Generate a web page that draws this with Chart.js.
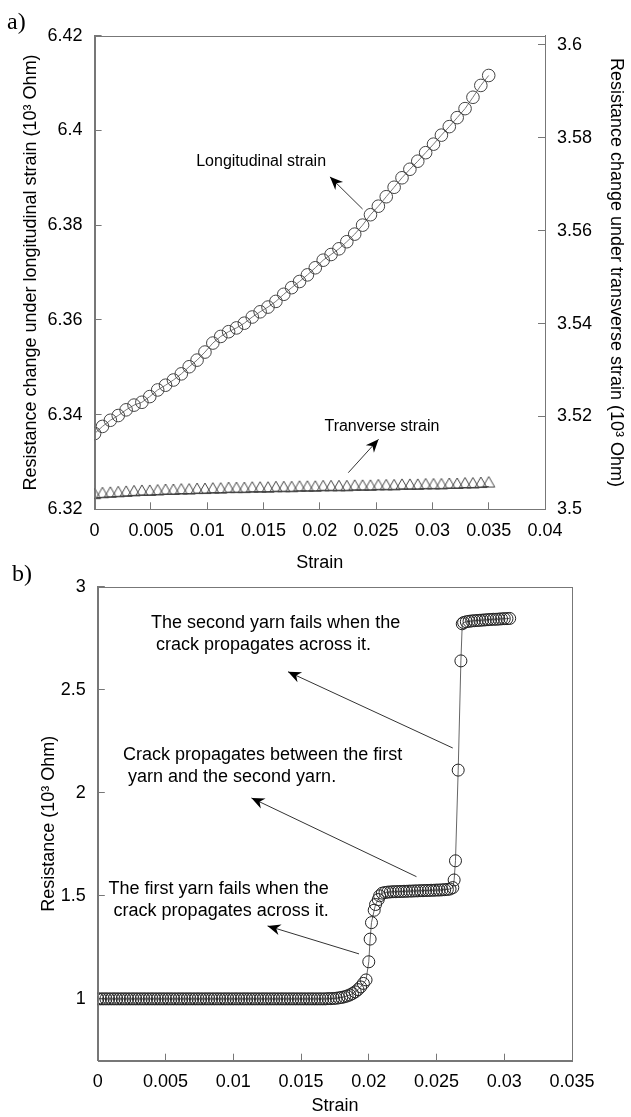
<!DOCTYPE html>
<html><head><meta charset="utf-8">
<script src="https://cdn.jsdelivr.net/npm/chart.js@4.4.1/dist/chart.umd.min.js"></script>
<style>
html,body{margin:0;padding:0;background:#fff;}
body{width:631px;height:1117px;position:relative;overflow:hidden;}
#ca{position:absolute;left:0;top:0;}
#cb{position:absolute;left:0;top:555px;}
</style></head><body>
<canvas id="ca" width="631" height="580"></canvas>
<canvas id="cb" width="631" height="562"></canvas>
<script>
// ---------- Panel a data ----------
const aStrain = [0,0.0007,0.0014,0.0021,0.0028,0.0035,0.0042,0.0049,0.0056,0.0063,
  0.007,0.0077,0.0084,0.0091,0.0098,0.0105,0.0112,0.0119,0.0126,0.0133,
  0.014,0.0147,0.0154,0.0161,0.0168,0.0175,0.0182,0.0189,0.0196,0.0203,
  0.021,0.0217,0.0224,0.0231,0.0238,0.0245,0.0252,0.0259,0.0266,0.0273,
  0.028,0.0287,0.0294,0.0301,0.0308,0.0315,0.0322,0.0329,0.0336,0.0343,0.035];
const aLongitudinal = [6.3360,6.3375,6.3388,6.3398,6.3410,6.3420,6.3426,6.3438,6.3452,6.3462,
  6.3473,6.3486,6.3501,6.3515,6.3532,6.3551,6.3565,6.3575,6.3583,6.3593,
  6.3606,6.3617,6.3627,6.3639,6.3654,6.3668,6.3681,6.3695,6.3710,6.3726,
  6.3738,6.3750,6.3765,6.3781,6.3800,6.3822,6.3840,6.3860,6.3880,6.3900,
  6.3918,6.3935,6.3953,6.3971,6.3990,6.4008,6.4027,6.4046,6.4070,6.4095,6.4116];
const aTransverse = [3.5024,3.5026,3.5027,3.5028,3.5029,3.5030,3.5031,3.5031,3.5032,3.5033,
  3.5033,3.5034,3.5034,3.5035,3.5035,3.5036,3.5036,3.5037,3.5037,3.5037,
  3.5038,3.5038,3.5038,3.5039,3.5039,3.5039,3.5040,3.5040,3.5040,3.5041,
  3.5041,3.5041,3.5041,3.5042,3.5042,3.5042,3.5043,3.5043,3.5043,3.5044,
  3.5044,3.5044,3.5045,3.5045,3.5045,3.5046,3.5046,3.5047,3.5047,3.5048,3.5049];
const aXTicks = [0,0.005,0.01,0.015,0.02,0.025,0.03,0.035,0.04];
const aXTickLabels = ['0','0.005','0.01','0.015','0.02','0.025','0.03','0.035','0.04'];
const aYTicks = [6.32,6.34,6.36,6.38,6.4,6.42];
const aYTickLabels = ['6.32','6.34','6.36','6.38','6.4','6.42'];
const aY2Ticks = [3.5,3.52,3.54,3.56,3.58,3.6];
const aY2TickLabels = ['3.5','3.52','3.54','3.56','3.58','3.6'];

// ---------- Panel b data ----------
const bStrain = [
  0,0.0002,0.0004,0.0006,0.0008,0.001,0.0012,0.0014,0.0016,0.0018,
  0.002,0.0022,0.0024,0.0026,0.0028,0.003,0.0032,0.0034,0.0036,0.0038,
  0.004,0.0042,0.0044,0.0046,0.0048,0.005,0.0052,0.0054,0.0056,0.0058,
  0.006,0.0062,0.0064,0.0066,0.0068,0.007,0.0072,0.0074,0.0076,0.0078,
  0.008,0.0082,0.0084,0.0086,0.0088,0.009,0.0092,0.0094,0.0096,0.0098,
  0.01,0.0102,0.0104,0.0106,0.0108,0.011,0.0112,0.0114,0.0116,0.0118,
  0.012,0.0122,0.0124,0.0126,0.0128,0.013,0.0132,0.0134,0.0136,0.0138,
  0.014,0.0142,0.0144,0.0146,0.0148,0.015,0.0152,0.0154,0.0156,0.0158,
  0.016,0.0162,0.0164,0.0166,0.0168,0.017,0.0172,0.0174,0.0176,
  0.0178,0.018,0.0182,0.0184,0.0186,0.0188,0.019,0.0192,0.0194,0.0196,
  0.0198,0.02,0.0201,0.0202,0.0204,0.0205,0.0207,0.0208,0.021,
  0.0212,0.0214,0.0216,0.0218,0.022,0.0222,0.0224,0.0226,0.0228,0.023,
  0.0232,0.0234,0.0236,0.0238,0.024,0.0242,0.0244,0.0246,0.0248,0.025,
  0.0252,0.0254,0.0256,0.0258,0.026,0.0262,
  0.0263,0.0264,0.0266,0.0268,0.0269,
  0.027,0.0272,0.0274,0.0276,0.0278,0.028,0.0282,0.0284,0.0286,0.0288,
  0.029,0.0292,0.0294,0.0296,0.0298,0.03,0.0302,0.0304];
const bResistance = [
  1,1,1,1,1,1,1,1,1,1,
  1,1,1,1,1,1,1,1,1,1,
  1,1,1,1,1,1,1,1,1,1,
  1,1,1,1,1,1,1,1,1,1,
  1,1,1,1,1,1,1,1,1,1,
  1,1,1,1,1,1,1,1,1,1,
  1,1,1,1,1,1,1,1,1,1,
  1,1,1,1,1,1,1,1,1,1,
  1,1,1,1,1,1.001,1.001,1.002,1.003,
  1.005,1.007,1.010,1.014,1.019,1.026,1.034,1.045,1.058,1.075,
  1.092,1.180,1.290,1.370,1.430,1.458,1.482,1.500,1.513,
  1.516,1.518,1.519,1.520,1.520,1.521,1.521,1.522,1.522,1.523,
  1.523,1.524,1.524,1.525,1.525,1.526,1.526,1.527,1.527,1.528,
  1.528,1.529,1.530,1.531,1.533,1.540,
  1.577,1.670,2.110,2.640,2.820,
  2.826,2.830,2.832,2.834,2.835,2.836,2.837,2.838,2.839,2.840,
  2.841,2.842,2.842,2.843,2.844,2.845,2.845,2.846];
const bXTicks = [0,0.005,0.01,0.015,0.02,0.025,0.03,0.035];
const bXTickLabels = ['0','0.005','0.01','0.015','0.02','0.025','0.03','0.035'];
const bYTicks = [1,1.5,2,2.5,3];
const bYTickLabels = ['1','1.5','2','2.5','3'];

// ---------- Annotations (data coordinates) ----------
const aNotes = [
  {lines:['Longitudinal strain'], x:0.01479, y:6.3935, align:'center'},
  {lines:['Tranverse strain'], x:0.02552, y:6.33744, align:'center'}
];
const aArrows = [
  {from:[0.0238,6.3834], to:[0.0209,6.3902]},
  {from:[0.02253,6.32773], to:[0.02522,6.33478]}
];
const bNotes = [
  {lines:['The second yarn fails when the',' crack propagates across it.'], x:0.003927, y:2.8235, align:'left'},
  {lines:['Crack propagates between the first',' yarn and the second yarn.'], x:0.00186, y:2.1833, align:'left'},
  {lines:['The first yarn fails when the',' crack propagates across it.'], x:0.000797, y:1.5335, align:'left'}
];
const bArrows = [
  {from:[0.02620,2.2173], to:[0.01404,2.5873]},
  {from:[0.02352,1.593], to:[0.01134,1.975]},
  {from:[0.01928,1.2182], to:[0.01253,1.354]}
];

// ---------- helpers ----------
const SANS = "'Liberation Sans', Arial, sans-serif";
const AXIS = '#777';
function tri(){
  const c=document.createElement('canvas'); c.width=16; c.height=24;
  const g=c.getContext('2d');
  g.strokeStyle='#444'; g.lineWidth=1;
  g.beginPath(); g.moveTo(8,2); g.lineTo(14,12.5); g.lineTo(2,12.5); g.closePath(); g.stroke();
  return c;
}
function arrow(ctx,x1,y1,x2,y2){
  ctx.save();
  ctx.strokeStyle='#333'; ctx.lineWidth=1;
  ctx.beginPath(); ctx.moveTo(x1,y1); ctx.lineTo(x2,y2); ctx.stroke();
  const ang=Math.atan2(y2-y1,x2-x1);
  ctx.translate(x2,y2); ctx.rotate(ang);
  ctx.fillStyle='#000';
  ctx.beginPath(); ctx.moveTo(0,0); ctx.lineTo(-13,-5.5); ctx.lineTo(-9,0); ctx.lineTo(-13,5.5); ctx.closePath(); ctx.fill();
  ctx.restore();
}
const notesPlugin = {
  id:'notes',
  afterDraw(chart,args,o){
    const ctx=chart.ctx, xs=chart.scales.x, ys=chart.scales[o.yAxis], a=chart.chartArea;
    ctx.save();
    ctx.strokeStyle=AXIS; ctx.lineWidth=1;
    ctx.strokeRect(Math.round(a.left)+0.5, Math.round(a.top)+0.5, Math.round(a.right)-Math.round(a.left), Math.round(a.bottom)-Math.round(a.top));
    ctx.fillStyle='#000';
    ctx.font=o.panelFont; ctx.textAlign='left'; ctx.textBaseline='middle';
    ctx.fillText(o.panel, o.panelX, o.panelY);
    ctx.font=o.noteFont;
    o.notes.forEach(n=>{
      const px=xs.getPixelForValue(n.x), py=ys.getPixelForValue(n.y);
      ctx.textAlign=n.align;
      n.lines.forEach((t,i)=>ctx.fillText(t,px,py+i*o.lineGap));
    });
    o.arrows.forEach(r=>arrow(ctx,xs.getPixelForValue(r.from[0]),ys.getPixelForValue(r.from[1]),xs.getPixelForValue(r.to[0]),ys.getPixelForValue(r.to[1])));
    ctx.restore();
  }
};
function tickFont(){return {family:SANS,size:18};}
function axisBase(ticksArr,labels,min,max,pos,size,titleText,titlePad){
  const horiz = pos==='bottom';
  return {
    type:'linear', position:pos, min:min, max:max,
    afterBuildTicks(s){ s.ticks = ticksArr.map(v=>({value:v})); },
    afterFit(s){ if(horiz) s.height=size; else s.width=size; },
    ticks:{callback:(v,i)=>labels[i], font:tickFont(), color:'#000', padding:horiz?18:19, maxRotation:0, autoSkip:false},
    grid:{drawOnChartArea:false, tickLength:-7, color:AXIS, tickWidth:1},
    border:{color:AXIS, width:1},
    title:{display:true, text:titleText, font:{family:SANS,size:18}, color:'#000', padding:titlePad}
  };
}

// ---------- Chart a ----------
new Chart(document.getElementById('ca'),{
  type:'line',
  data:{datasets:[
    {label:'Longitudinal strain', data:aStrain.map((x,i)=>({x:x,y:aLongitudinal[i]})), yAxisID:'y',
     borderColor:'#777', borderWidth:1, pointStyle:'circle', pointRadius:6.3, pointBorderColor:'#444',
     pointBackgroundColor:'rgba(0,0,0,0)', pointBorderWidth:1, tension:0},
    {label:'Tranverse strain', data:aStrain.map((x,i)=>({x:x,y:aTransverse[i]})), yAxisID:'y2',
     borderColor:'#333', borderWidth:1, pointStyle:tri(), pointRadius:6, tension:0}
  ]},
  options:{
    responsive:false, animation:false,
    layout:{padding:{top:35.7,left:0,right:0,bottom:0}},
    plugins:{legend:{display:false}, tooltip:{enabled:false},
      notes:{yAxis:'y', panel:'a)', panelX:7, panelY:23, panelFont:"24px 'Liberation Serif', 'Times New Roman', serif",
        noteFont:'16px '+SANS, lineGap:22, notes:aNotes, arrows:aArrows}},
    scales:{
      x: axisBase(aXTicks,aXTickLabels,0,0.04,'bottom',70.7,'Strain',{top:0,bottom:6}),
      y: axisBase(aYTicks,aYTickLabels,6.32,6.42,'left',94.6,'Resistance change under longitudinal strain (10³ Ohm)',{top:20,bottom:0}),
      y2: axisBase(aY2Ticks,aY2TickLabels,3.5,3.602,'right',86,'Resistance change under transverse strain (10³ Ohm)',{top:4.5,bottom:0})
    }
  },
  plugins:[notesPlugin]
});

// ---------- Chart b ----------
new Chart(document.getElementById('cb'),{
  type:'line',
  data:{datasets:[
    {label:'Resistance', data:bStrain.map((x,i)=>({x:x,y:bResistance[i]})), yAxisID:'y',
     borderColor:'#666', borderWidth:1, pointStyle:'circle', pointRadius:6, pointBorderColor:'#222',
     pointBackgroundColor:'rgba(0,0,0,0)', pointBorderWidth:1, tension:0}
  ]},
  options:{
    responsive:false, animation:false,
    layout:{padding:{top:31.7,left:0,right:59,bottom:0}},
    plugins:{legend:{display:false}, tooltip:{enabled:false},
      notes:{yAxis:'y', panel:'b)', panelX:12, panelY:20, panelFont:"24px 'Liberation Serif', 'Times New Roman', serif",
        noteFont:'18px '+SANS, lineGap:22, notes:bNotes, arrows:bArrows}},
    scales:{
      x: axisBase(bXTicks,bXTickLabels,0,0.035,'bottom',56.3,'Strain',{top:0,bottom:0}),
      y: axisBase(bYTicks,bYTickLabels,0.7,3,'left',97.8,'Resistance (10³ Ohm)',{top:38,bottom:0})
    }
  },
  plugins:[notesPlugin]
});
</script></body></html>
